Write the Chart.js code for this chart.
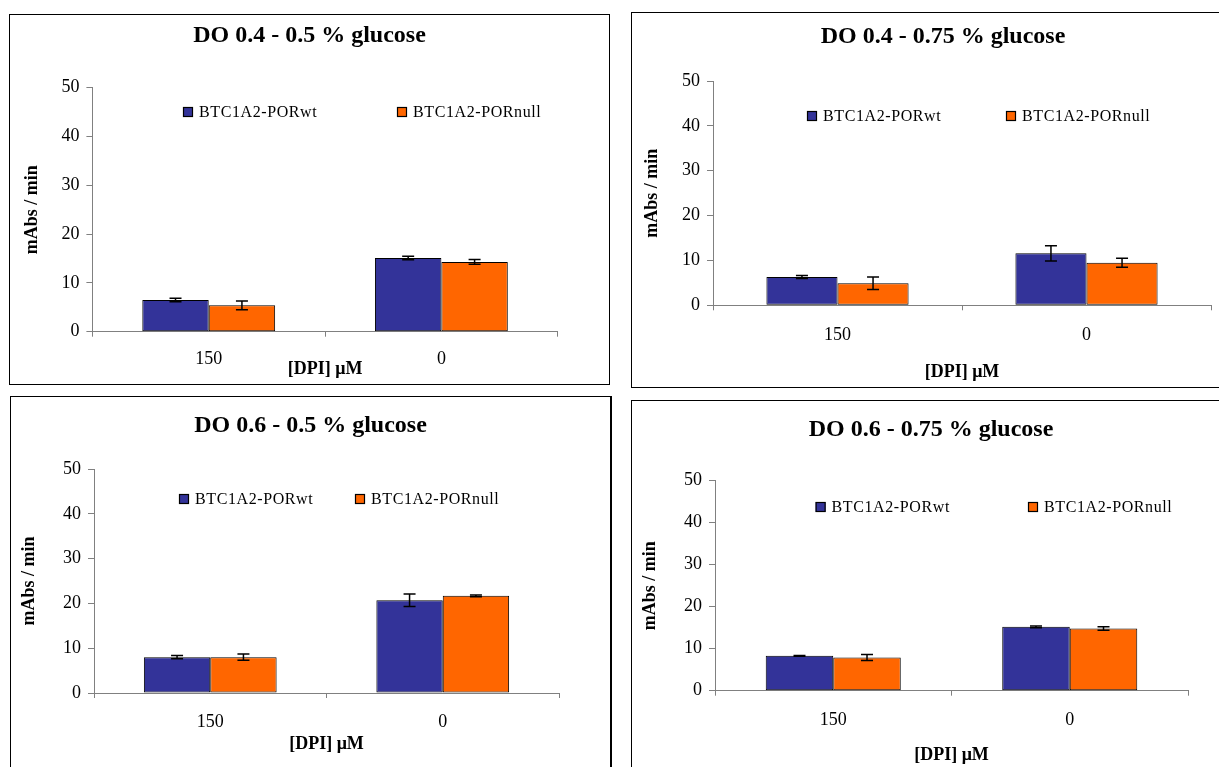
<!DOCTYPE html>
<html>
<head>
<meta charset="utf-8">
<title>DPI inhibition - BTC1A2 strains</title>
<script src="https://cdn.jsdelivr.net/npm/chart.js@4/dist/chart.umd.min.js"></script>
<style>
  html, body { margin: 0; padding: 0; background: #fff; overflow: hidden; }
  body { width: 1219px; height: 767px; position: relative; }
  .panel { position: absolute; border: 1px solid #000; background: #fff; }
  .panel canvas { position: absolute; left: 0; top: 0; }
</style>
</head>
<body>
<div class="panel" style="left:9px;top:14px;width:599px;height:369px"><canvas id="chart-do04-g05"></canvas></div>
<div class="panel" style="left:631px;top:12px;width:622px;height:374px"><canvas id="chart-do04-g075"></canvas></div>
<div class="panel" style="left:10px;top:396px;width:599px;height:380px;border-right-width:2px"><canvas id="chart-do06-g05"></canvas></div>
<div class="panel" style="left:631px;top:400px;width:598px;height:380px"><canvas id="chart-do06-g075"></canvas></div>

<script>
const doseLabels = ["150", "0"];
const seriesNames = ["BTC1A2-PORwt", "BTC1A2-PORnull"];
const panelTitles = [
    "DO 0.4 - 0.5 % glucose",
    "DO 0.4 - 0.75 % glucose",
    "DO 0.6 - 0.5 % glucose",
    "DO 0.6 - 0.75 % glucose",
];

// rate in mAbs/min, one value per DPI dose, with its error
const wtDo04Glc05 = [6.5, 15.1];
const wtDo04Glc05Err = [0.35, 0.35];
const nullDo04Glc05 = [5.4, 14.3];
const nullDo04Glc05Err = [0.9, 0.5];

const wtDo04Glc075 = [6.3, 11.6];
const wtDo04Glc075Err = [0.35, 1.7];
const nullDo04Glc075 = [4.9, 9.5];
const nullDo04Glc075Err = [1.4, 1.0];

const wtDo06Glc05 = [8.0, 20.7];
const wtDo06Glc05Err = [0.35, 1.4];
const nullDo06Glc05 = [8.0, 21.7];
const nullDo06Glc05Err = [0.7, 0.2];

const wtDo06Glc075 = [8.3, 15.2];
const wtDo06Glc075Err = [0.1, 0.2];
const nullDo06Glc075 = [7.9, 14.8];
const nullDo06Glc075Err = [0.7, 0.4];

const SERIF = '"Liberation Serif", "Times New Roman", serif';
const AXIS_GRAY = "#808080";
const WT_COLOR = "#333399";
const NULL_COLOR = "#FF6600";

const TITLE_SIZE = 24;
const AXIS_TITLE_SIZE = 18;
const TICK_SIZE = 18;

/**
 * Draw +/- error whiskers on top of every bar, using dataset.errors.
 */
const errorBars = {
    id: "errorBars",
    afterDatasetsDraw(chart) {
        const ctx = chart.ctx;
        const yScale = chart.scales.y;
        ctx.save();
        ctx.strokeStyle = "#000";
        ctx.lineWidth = 1.5;
        chart.data.datasets.forEach((ds, i) => {
            chart.getDatasetMeta(i).data.forEach((bar, j) => {
                const hi = yScale.getPixelForValue(ds.data[j] + ds.errors[j]);
                const lo = yScale.getPixelForValue(ds.data[j] - ds.errors[j]);
                ctx.beginPath();
                ctx.moveTo(bar.x, hi);
                ctx.lineTo(bar.x, lo);
                ctx.moveTo(bar.x - 6, hi);
                ctx.lineTo(bar.x + 6, hi);
                ctx.moveTo(bar.x - 6, lo);
                ctx.lineTo(bar.x + 6, lo);
                ctx.stroke();
            });
        });
        ctx.restore();
    }
};

/**
 * Small square-swatch legend drawn inside the plot, in one row.
 */
const boxLegend = {
    id: "boxLegend",
    afterDraw(chart, args, opts) {
        const ctx = chart.ctx;
        ctx.save();
        ctx.font = `16px ${SERIF}`;
        ctx.letterSpacing = "0.6px";
        ctx.textBaseline = "middle";
        chart.data.datasets.forEach((ds, i) => {
            const x = opts.x[i];
            const y = opts.y;
            ctx.fillStyle = ds.backgroundColor;
            ctx.fillRect(x, y - 5, 10, 10);
            ctx.strokeStyle = "#000";
            ctx.lineWidth = 1.2;
            ctx.strokeRect(x + 0.5, y - 4.5, 9, 9);
            ctx.fillStyle = "#000";
            ctx.fillText(ds.label, x + 16, y + 1);
        });
        ctx.restore();
    }
};

/**
 * Build one panel.
 * @param {String} id - canvas id.
 * @param {String} title - panel title.
 * @param {Array<Array<Number>>} series - [wt, wtErr, null, nullErr].
 * @param {Object} g - canvas size and plot box in canvas pixels.
 */
function make_panel(id, title, series, g) {
    const el = document.getElementById(id);
    if (el === null) {
        throw Error(`failed finding #${id}`);
    }
    el.width = g.W;
    el.height = g.H;

    const [wt, wtErr, nul, nulErr] = series;
    const titleHalf = TITLE_SIZE * 0.6;
    const axisTitleHalf = AXIS_TITLE_SIZE * 0.6;
    const tickHalf = TICK_SIZE * 0.6;

    new Chart(el, {
        type: "bar",
        data: {
            labels: doseLabels,
            datasets: [{
                label: seriesNames[0],
                data: wt,
                errors: wtErr,
                backgroundColor: WT_COLOR,
                borderColor: "#000",
                borderWidth: 1,
                borderSkipped: false,
                categoryPercentage: 0.571,
                barPercentage: 1,
                yAxisID: "y"
            }, {
                label: seriesNames[1],
                data: nul,
                errors: nulErr,
                backgroundColor: NULL_COLOR,
                borderColor: "#000",
                borderWidth: 1,
                borderSkipped: false,
                categoryPercentage: 0.571,
                barPercentage: 1,
                yAxisID: "y"
            }]
        },
        plugins: [errorBars, boxLegend],
        options: {
            responsive: false,
            animation: false,
            layout: { padding: 0 },
            plugins: {
                legend: { display: false },
                tooltip: { enabled: false },
                title: {
                    display: true,
                    text: title,
                    color: "#000",
                    font: { family: SERIF, size: TITLE_SIZE, weight: "bold" },
                    padding: { top: g.titleY - titleHalf, bottom: g.top - g.titleY - titleHalf }
                },
                boxLegend: { x: g.legendX, y: g.legendY }
            },
            scales: {
                x: {
                    grid: { offset: true, drawOnChartArea: false, tickLength: 5, color: AXIS_GRAY },
                    border: { color: AXIS_GRAY },
                    ticks: {
                        color: "#000",
                        font: { family: SERIF, size: TICK_SIZE },
                        padding: g.xTickY - g.bottom - 5 - tickHalf
                    },
                    title: {
                        display: true,
                        text: "[DPI] μM",
                        color: "#000",
                        font: { family: SERIF, size: AXIS_TITLE_SIZE, weight: "bold" },
                        padding: { top: 0, bottom: g.H - g.xTitleY - axisTitleHalf }
                    },
                    afterFit: (s) => { s.height = g.H - g.bottom; }
                },
                y: {
                    min: 0,
                    max: 50,
                    grid: { drawOnChartArea: false, tickLength: 6, color: AXIS_GRAY },
                    border: { color: AXIS_GRAY },
                    ticks: {
                        stepSize: 10,
                        color: "#000",
                        font: { family: SERIF, size: TICK_SIZE },
                        padding: 7
                    },
                    title: {
                        display: true,
                        text: "mAbs / min",
                        color: "#000",
                        font: { family: SERIF, size: AXIS_TITLE_SIZE, weight: "bold" },
                        padding: { top: g.yTitleX - axisTitleHalf, bottom: 0 }
                    },
                    afterFit: (s) => { s.width = g.left; }
                },
                // empty right-hand axis, keeps the plot narrower than the frame
                spacer: {
                    position: "right",
                    display: true,
                    grid: { display: false },
                    border: { display: false },
                    ticks: { display: false },
                    afterFit: (s) => { s.width = g.W - g.right; }
                }
            }
        }
    });
}

make_panel("chart-do04-g05", panelTitles[0],
    [wtDo04Glc05, wtDo04Glc05Err, nullDo04Glc05, nullDo04Glc05Err],
    { W: 599, H: 369, left: 82.4, right: 547.7, top: 72.7, bottom: 316.7,
      titleY: 21, yTitleX: 22, xTickY: 344, xTitleY: 354, legendX: [173, 387], legendY: 97 });

make_panel("chart-do04-g075", panelTitles[1],
    [wtDo04Glc075, wtDo04Glc075Err, nullDo04Glc075, nullDo04Glc075Err],
    { W: 622, H: 374, left: 81, right: 579, top: 68, bottom: 292.3,
      titleY: 24, yTitleX: 20, xTickY: 322, xTitleY: 359, legendX: [175, 374], legendY: 103 });

make_panel("chart-do06-g05", panelTitles[2],
    [wtDo06Glc05, wtDo06Glc05Err, nullDo06Glc05, nullDo06Glc05Err],
    { W: 599, H: 380, left: 83, right: 548, top: 72, bottom: 296,
      titleY: 29, yTitleX: 18, xTickY: 325.7, xTitleY: 347, legendX: [168, 344], legendY: 102 });

make_panel("chart-do06-g075", panelTitles[3],
    [wtDo06Glc075, wtDo06Glc075Err, nullDo06Glc075, nullDo06Glc075Err],
    { W: 598, H: 380, left: 83, right: 556, top: 79.7, bottom: 289.7,
      titleY: 29, yTitleX: 18, xTickY: 319, xTitleY: 354, legendX: [183.6, 396], legendY: 106 });
</script>
</body>
</html>
